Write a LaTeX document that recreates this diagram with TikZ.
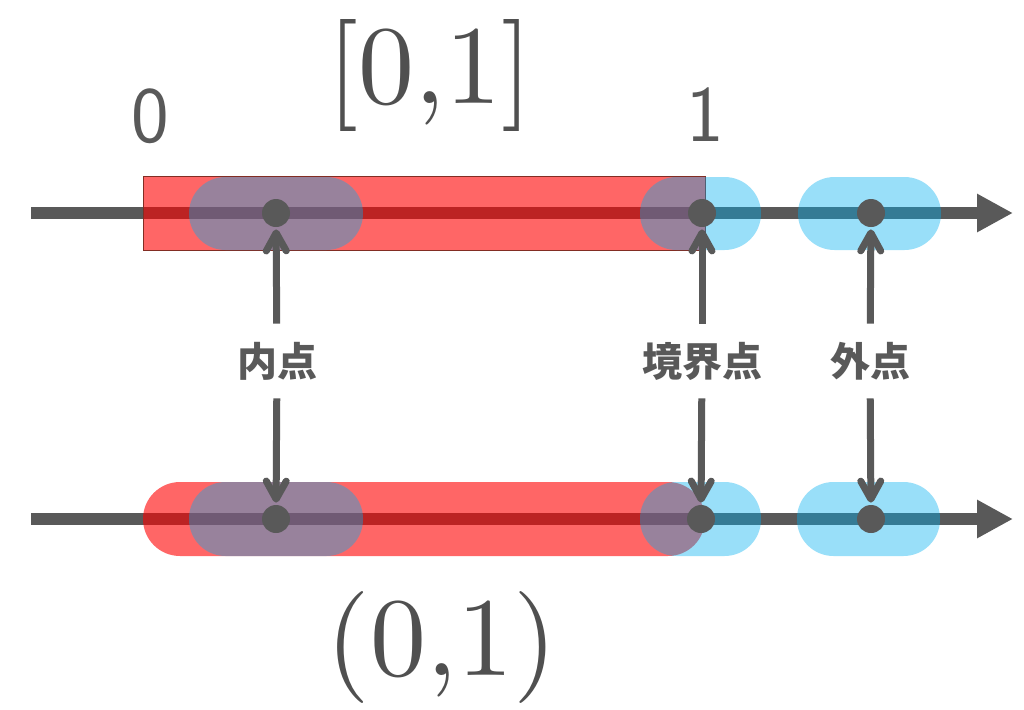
\documentclass[tikz,border=0pt]{standalone}
\usepackage{fontspec}
\newfontfamily\jp{Noto Sans CJK JP}
\newfontfamily\bignum{lmroman10-regular.otf}
\usetikzlibrary{arrows.meta}
\definecolor{axisgray}{RGB}{89,89,89}
\definecolor{setred}{RGB}{255,0,0}
\definecolor{nbhdblue}{RGB}{0,174,239}
\definecolor{rimred}{RGB}{130,45,35}

\begin{document}
\begin{tikzpicture}[x=0.5pt,y=-0.5pt,
  axis/.style={axisgray,line width=6pt,-{Triangle[length=18pt,width=18pt]}},
  nbhd/.style={fill=nbhdblue,fill opacity=0.4,rounded corners=18.25pt},
  pt/.style={circle,fill=axisgray,inner sep=0pt,minimum size=14pt},
  lbl/.style={font=\jp\bfseries\fontsize{20}{24}\selectfont,text=axisgray,minimum height=37pt},
  ptr/.style={axisgray,line width=3.5pt,shorten >=1pt,-{Straight Barb[length=9pt,width=10pt,round]}},
  num/.style={font=\sffamily\fontsize{40}{48}\selectfont,text=axisgray,inner sep=0pt,anchor=base},
  big/.style={font=\bignum\fontsize{56}{68}\selectfont,text=axisgray!90!black,inner sep=0pt,anchor=base}]
\useasboundingbox (0,0) rectangle (1024,709);
\draw [axis] (31,213) -- (1013,213);
\draw [axis] (31,519) -- (1013,519);
% closed and open interval
\path [draw=rimred, line width=0.5pt, fill=setred, fill opacity=0.6] (143,176) rectangle (705,250);
\path [fill=setred, fill opacity=0.6, rounded corners=18.5pt] (143,482) rectangle (705,556);
% neighbourhoods
\path [nbhd] (189,177) rectangle (363,250);
\path [nbhd] (640,177) rectangle (761,250);
\path [nbhd] (798,177) rectangle (941,250);
\path [nbhd] (189,482) rectangle (363,556);
\path [nbhd] (640,482) rectangle (761,556);
\path [nbhd] (797,482) rectangle (940,556);
% points
\node [pt] (in1) at (276,213) {};
\node [pt] (bd1) at (702,213) {};
\node [pt] (ex1) at (871,213) {};
\node [pt] (in2) at (276,519) {};
\node [pt] (bd2) at (701,519) {};
\node [pt] (ex2) at (871,519) {};
\node [lbl] (inner) at (277,361) {内点};
\node [lbl] (bdry) at (702,361) {境界点};
\node [lbl] (outer) at (870,361) {外点};
\draw [ptr] (inner) -- (in1);
\draw [ptr] (inner) -- (in2);
\draw [ptr] (bdry) -- (bd1);
\draw [ptr] (bdry) -- (bd2);
\draw [ptr] (outer) -- (ex1);
\draw [ptr] (outer) -- (ex2);
\node [num] (zero) at (150,142) {0};
\node [num] (one) at (705,141) {1};
\node [big] (closed) at (430,103) {[0,1]};
\node [big] (open) at (442,675) {(0,1)};
\end{tikzpicture}
\end{document}
